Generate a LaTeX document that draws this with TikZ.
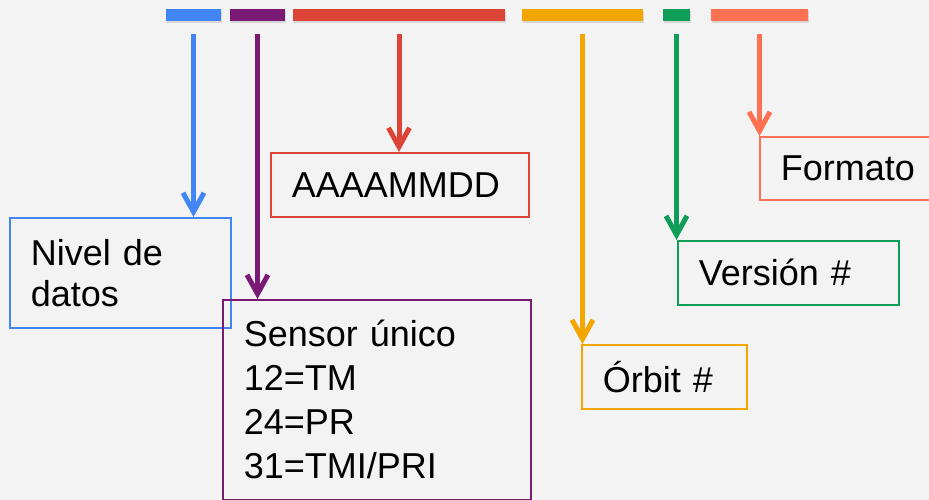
\documentclass[tikz,border=0pt]{standalone}
\usepackage{fontspec}
\setmainfont{Liberation Sans}
\usetikzlibrary{arrows.meta,shadows}
\definecolor{gbg}{HTML}{F3F3F3}
\definecolor{gblue}{HTML}{4285F4}
\definecolor{gpurple}{HTML}{7B1A74}
\definecolor{gred}{HTML}{DB4437}
\definecolor{gorange}{HTML}{F4A600}
\definecolor{ggreen}{HTML}{0F9D58}
\definecolor{gsalmon}{HTML}{FF7150}

\begin{document}
\begin{tikzpicture}[x=1pt,y=-1pt,
    bar/.style={rectangle,minimum height=12pt,inner sep=0pt,
      drop shadow={opacity=0.25,shadow xshift=0.8pt,shadow yshift=-2pt}},
    lbl/.style={draw,line width=1.6pt,text=black,anchor=north west,
      inner xsep=21pt,inner ysep=0pt,align=left,
      font=\fontsize{36}{44}\selectfont},
    arr/.style={line width=5pt,-{Straight Barb[length=19pt,width=21pt]}}]
  \fill[gbg] (0,0) rectangle (929,500);
  \useasboundingbox (0,0) rectangle (929,500);

  % bars of the file name
  \node[bar,fill=gblue,minimum width=55pt] (bnivel) at (193.5,15.5) {};
  \node[bar,fill=gpurple,minimum width=55pt] (bsensor) at (257.5,15.5) {};
  \node[bar,fill=gred,minimum width=212pt] (bfecha) at (399,15.5) {};
  \node[bar,fill=gorange,minimum width=121pt] (borbit) at (582.5,15.5) {};
  \node[bar,fill=ggreen,minimum width=27pt] (bversion) at (676.5,15.5) {};
  \node[bar,fill=gsalmon,minimum width=97pt] (bformato) at (759.5,15.5) {};

  % labels
  \node[lbl,draw=gblue,text width=179pt,minimum height=110pt,
    font=\fontsize{36}{41}\selectfont] (nivel) at (9,217) {Nivel de\\datos};
  \node[lbl,draw=gpurple,text width=266pt,minimum height=200pt] (sensor) at (222,299)
    {Sensor único\\12=TM\\24=PR\\31=TMI/PRI};
  \node[lbl,draw=gred,text width=216pt,minimum height=64pt] (fecha) at (270,152) {AAAAMMDD};
  \node[lbl,draw=gorange,text width=123pt,minimum height=64pt] (orbit) at (581,344) {Órbit \#};
  \node[lbl,draw=ggreen,text width=179pt,minimum height=64pt] (version) at (677,240) {Versión \#};
  \node[lbl,draw=gsalmon,text width=138pt,minimum height=63pt] (formato) at (759,136) {Formato};

  % arrows
  \draw[arr,gblue] ([yshift=-12pt]bnivel.south) -- (bnivel.south |- nivel.north);
  \draw[arr,gpurple] ([yshift=-12pt]bsensor.south) -- (bsensor.south |- sensor.north);
  \draw[arr,gred] ([yshift=-12pt]bfecha.south) -- (bfecha.south |- fecha.north);
  \draw[arr,gorange] ([yshift=-12pt]borbit.south) -- (borbit.south |- orbit.north);
  \draw[arr,ggreen] ([yshift=-12pt]bversion.south) -- (bversion.south |- version.north);
  \draw[arr,gsalmon] ([yshift=-12pt]bformato.south) -- (bformato.south |- formato.north);
\end{tikzpicture}
\end{document}
